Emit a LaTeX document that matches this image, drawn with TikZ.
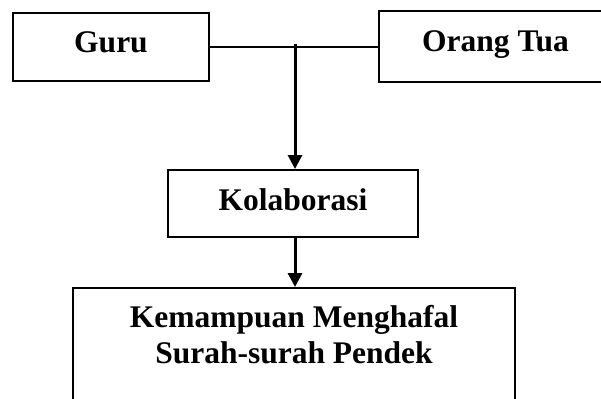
\documentclass[tikz,border=0pt]{standalone}
\usepackage{fontspec}
\setmainfont{Liberation Serif}
\usetikzlibrary{arrows.meta}
\tikzset{
  boxnode/.style={draw, line width=2pt, inner sep=0pt, align=center,
    font=\bfseries\fontsize{31.5pt}{36pt}\selectfont},
  txtnode/.style={inner sep=0pt, anchor=base,
    font=\bfseries\fontsize{31.5pt}{36pt}\selectfont},
  thinline/.style={line width=1.3pt},
  arrowline/.style={line width=3pt, -{Triangle[length=14pt,width=14pt]}},
}
\begin{document}
\begin{tikzpicture}[x=1pt,y=-1pt]
\useasboundingbox (0,0) rectangle (601,398);
\node[boxnode, minimum width=196pt, text height=40pt, text depth=28pt] (guru) at (111,47) {Guru};
\node[boxnode, minimum width=233pt, text height=41pt, text depth=30pt] (ortu) at (495.5,46.5) {Orang Tua};
\node[boxnode, minimum width=250pt, text height=40pt, text depth=27pt] (kolab) at (293,203.5) {Kolaborasi};
\node[boxnode, minimum width=442pt, minimum height=142pt] (kem) at (294,359) {};
\node[txtnode] (kemA) at (294,327) {Kemampuan Menghafal};
\node[txtnode] (kemB) at (294,363) {Surah-surah Pendek};
\coordinate (j) at (295,44.5);
\draw[thinline] (guru.east) -- (guru.east -| ortu.west);
\draw[arrowline] (j) -- (j |- kolab.north);
\draw[arrowline] (kolab.south -| j) -- (j |- kem.north);
\end{tikzpicture}
\end{document}
